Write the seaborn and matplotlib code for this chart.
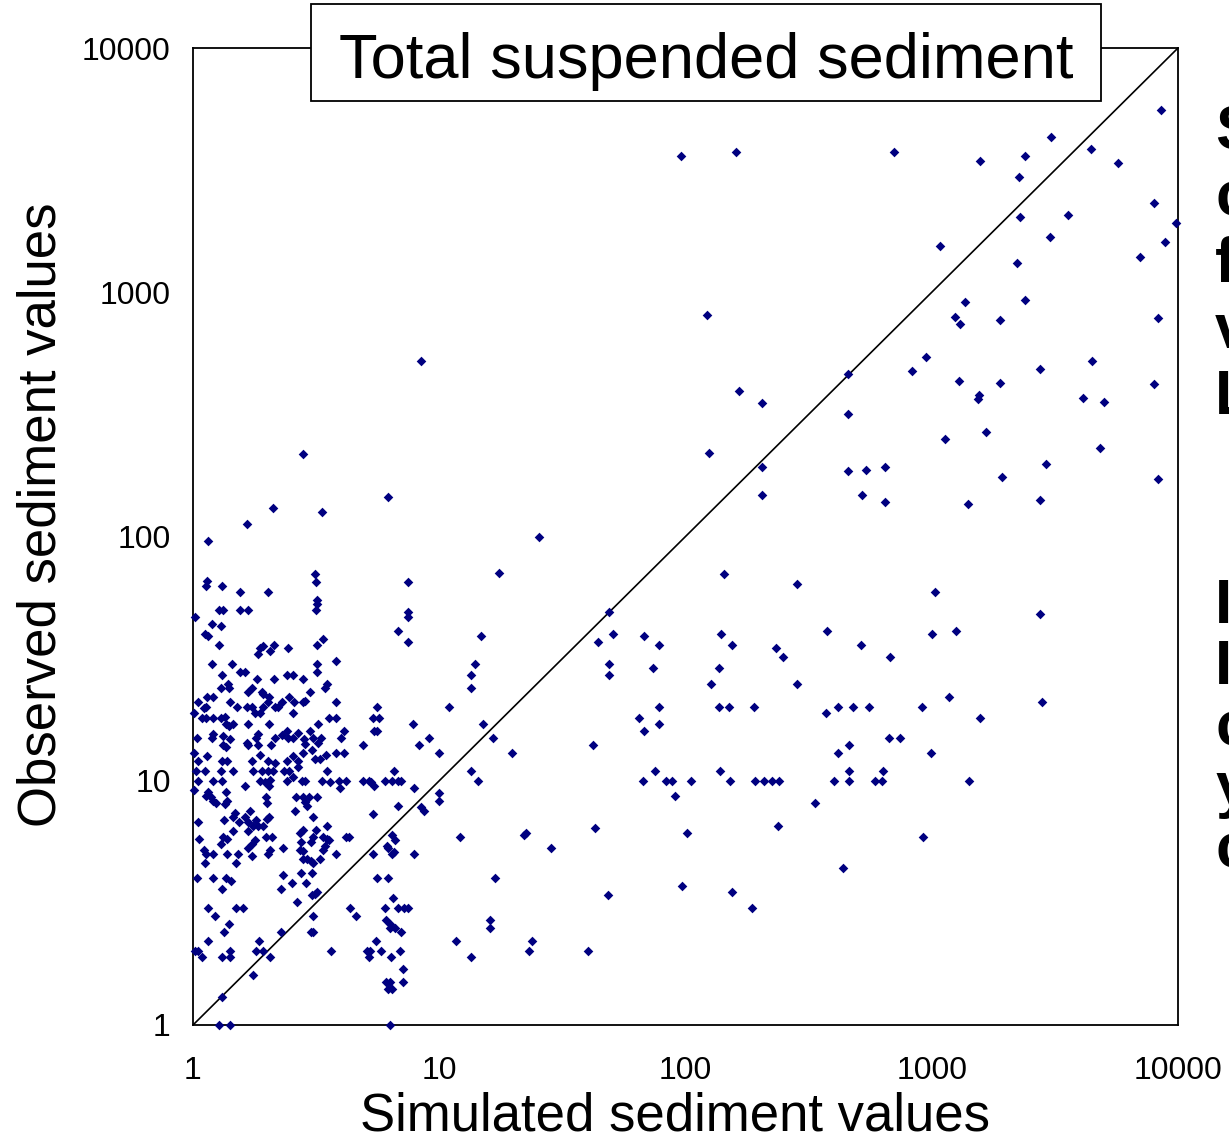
import matplotlib
matplotlib.use("Agg")
import numpy as np
import pandas as pd
import matplotlib.pyplot as plt
import seaborn as sns
from matplotlib.patches import Rectangle

# ---------------- data ----------------
# upper / right part of the cloud
sim_a = [8.4, 2.8, 6.2, 96, 160, 700, 1565, 2400, 3040, 2270, 4430, 5720, 8550,
         7980, 9820, 8850, 7020, 3570, 2280, 3010, 1080, 2210, 122,
         1360, 2400, 1240, 1300, 1900, 8260, 950, 830, 2760, 4480,
         1290, 1900, 1550, 1540, 4130, 5010, 7980, 165, 205, 459,
         459, 1130, 1660, 4830, 2900, 1920, 8260, 125, 205, 205,
         459, 543, 643, 522, 643, 1410, 2750]
obs_a = [525, 217, 145, 3600, 3740, 3740, 3440, 3600, 4340, 2960, 3850, 3370, 5560,
         2320, 1930, 1600, 1390, 2070, 2030, 1680, 1540, 1320, 809,
         910, 927, 792, 739, 772, 785, 545, 477, 485, 525,
         433, 426, 381, 366, 369, 354, 422, 396, 351, 464,
         316, 251, 267, 230, 198, 175, 172, 219, 193, 148,
         185, 188, 192, 148, 138, 136, 141]

# middle-lower part (simulated 10 - 400)
sim_b = [25.3, 17.5, 143, 283, 49, 374, 14.8, 51, 44, 68,
         78, 139, 154, 232, 248, 137, 74, 49, 49, 127,
         283, 78, 137, 150, 190, 371, 65, 68, 78, 15.1,
         16.5, 19.8, 42, 67, 75, 83, 88, 105, 91, 138,
         152, 192, 209, 224, 240, 336, 238, 22.1, 22.6, 43,
         101, 28.4, 16.8, 48.6, 96.5, 155, 186, 16, 16, 23.7,
         23.2, 40]
obs_b = [100, 71, 70, 64, 49, 41, 39, 40, 37, 39,
         36, 40, 36, 35, 32, 29, 29, 30, 27, 25,
         25, 20, 20, 20, 20, 19, 18, 16, 17, 17,
         15, 13, 14, 10, 11, 10, 10, 10, 8.7, 11,
         10, 10, 10, 10, 10, 8.1, 6.5, 6, 6.1, 6.4,
         6.1, 5.3, 4, 3.4, 3.7, 3.5, 3, 2.7, 2.5, 2.2,
         2, 2]

# lower right part (simulated 400 - 3000)
sim_c = [1030, 2740, 516, 679, 1005, 1260, 1180, 2810, 415, 479,
         554, 916, 1570, 673, 745, 416, 460, 993, 460, 634,
         402, 460, 587, 626, 1420, 919, 437]
obs_c = [59, 48, 36, 32, 40, 41, 22, 21, 20, 20,
         20, 20, 18, 15, 15, 13, 14, 13, 11, 11,
         10, 10, 10, 10, 10, 5.9, 4.4]

# simulated 3.8 - 14, observed 13 - 65
sim_d = [7.45, 7.45, 7.5, 6.8, 7.45, 3.8, 14, 13.5, 13.5, 3.8,
         5.6, 11, 3.8, 5.4, 5.7, 7.8, 4.1, 4.0, 5.6, 5.45,
         9.1, 4.9, 8.3, 9.95, 3.8, 4.1]
obs_d = [65, 49, 47, 41, 37, 31, 30, 27, 24, 21,
         20, 20, 18, 18, 18, 17, 16, 15, 16, 16,
         15, 14, 14, 13, 13, 13]

# simulated 3.8 - 14, observed 1 - 11
sim_e = [3.9, 3.95, 4.2, 4.9, 5.2, 5.3, 5.45, 6.0, 6.4, 6.8,
         7.0, 6.55, 7.9, 6.8, 5.4, 8.4, 8.7, 10, 10, 13.5,
         14.3, 4.2, 4.3, 3.8, 5.4, 6.45, 6.6, 6.15, 6.2, 6.55,
         6.45, 7.9, 12.1, 5.6, 6.2, 6.5, 4.35, 4.6, 6.0, 6.8,
         7.2, 7.5, 6.1, 6.3, 6.3, 6.6, 7.0, 5.55, 5.1, 5.25,
         5.2, 5.8, 6.35, 6.95, 11.7, 13.5, 7.15, 6.1, 6.3, 7.1,
         6.2, 6.45, 6.3]
obs_e = [10, 9.3, 10, 10, 10, 9.9, 9.5, 10, 10, 10,
         10, 11, 9.3, 7.9, 7.3, 7.8, 7.5, 8.9, 8.3, 11,
         10, 5.9, 5.9, 5, 5, 6, 5.7, 5.4, 5.3, 5.1,
         5, 5, 5.9, 4, 4, 3.3, 3, 2.8, 3, 3,
         3, 3, 2.7, 2.6, 2.5, 2.5, 2.4, 2.2, 2, 2,
         1.9, 2, 1.9, 2, 2.2, 1.9, 1.7, 1.5, 1.5, 1.5,
         1.4, 1.4, 1]

# simulated 1 - 3.7, observed 1 - 11
sim_f = [1.03, 1.05, 1.01, 1.12, 1.21, 1.3, 1.31, 1.46, 1.75, 1.9,
         2.02, 2.12, 1.87, 1.96, 2.04, 2.05, 1.63, 2.35, 2.45, 2.55,
         2.4, 2.68, 2.76, 2.85, 3.33, 3.49, 3.6, 1.15, 1.18, 1.13,
         1.21, 1.24, 1.36, 1.38, 1.35, 1.98, 1.99, 2.62, 2.8, 2.97,
         2.85, 2.91, 3.2, 2.6, 1.05, 1.34, 1.45, 1.48, 1.54, 1.63,
         1.7, 1.68, 1.8, 1.99, 2.04, 1.76, 1.84, 1.93, 1.68, 3.06,
         3.51, 1.06, 1.33, 1.37, 1.3, 1.46, 1.98, 2.09, 2.8, 2.72,
         3.16, 3.08, 3.01, 3.38, 3.49, 3.58, 2.75, 1.79, 1.73, 1.67,
         1.11, 1.13, 1.21, 1.12, 1.38, 1.52, 1.5, 1.73, 2.05, 2.02,
         2.31, 2.72, 2.8, 3.38, 3.44, 2.8, 2.9, 3.01, 3.08, 3.28,
         1.04, 1.21, 1.36, 1.42, 1.31, 2.31, 2.74, 3.03, 2.27, 2.52,
         2.88, 3.04, 3.2, 3.12, 2.65, 1.15, 1.23, 1.5, 1.59, 3.06,
         1.4, 1.34, 2.27, 3.01, 3.08, 1.15, 1.85, 1.02, 1.05, 1.09,
         1.31, 1.41, 1.41, 1.81, 1.92, 2.05, 3.62, 1.75, 1.31, 1.27, 1.41]
obs_f = [11, 10, 9.2, 11, 10, 11, 10, 11, 11, 11,
         11, 11, 10, 9.9, 9.5, 10.1, 9.5, 11, 11, 10.4,
         10, 11.4, 10, 10, 10, 11, 9.9, 9, 8.6, 8.7,
         8.3, 8.1, 9, 8.3, 8, 8.6, 8.1, 8.6, 8.6, 8.6,
         8.2, 7.9, 8.6, 7.5, 6.8, 6.9, 7.1, 7.4, 6.8, 7.1,
         7.5, 6.8, 6.9, 7, 7.1, 6.5, 6.55, 6.5, 6.2, 7.1,
         6.5, 5.8, 5.9, 5.8, 5.5, 6.2, 5.9, 5.9, 6.3, 6.1,
         6.3, 5.9, 5.6, 5.9, 5.8, 5.7, 5.6, 5.7, 5.5, 5.3,
         5.2, 5, 5, 4.6, 5, 5, 4.6, 4.9, 5.2, 5,
         5.3, 5.2, 5.15, 5.2, 5.4, 4.8, 4.8, 4.7, 4.6, 4.8,
         4, 4, 4, 3.9, 3.6, 4.1, 4.2, 4.2, 3.6, 3.8,
         3.8, 3.4, 3.5, 3.45, 3.2, 3, 2.8, 3, 3, 2.8,
         2.6, 2.4, 2.4, 2.4, 2.4, 2.2, 2.2, 2, 2, 1.9,
         1.9, 1.9, 2, 2, 2, 1.9, 2, 1.6, 1.3, 1, 1]

# simulated 1 - 3.6, observed 11 - 131
sim_g = [2.12, 3.33, 1.65, 1.15, 1.14, 1.13, 1.31, 1.55, 2.01, 3.13,
         3.16, 3.2, 3.18, 3.16, 1.28, 1.32, 1.55, 1.68, 1.02, 1.19,
         1.3, 1.12, 1.15, 1.28, 3.18, 3.36, 1.87, 1.84, 1.92, 2.05,
         2.13, 2.44, 1.19, 1.44, 1.55, 1.63, 3.18, 3.18, 1.31, 1.3,
         1.39, 1.4, 1.74, 1.82, 2.13, 2.41, 2.55, 2.79, 3.49, 3.44,
         1.14, 1.21, 1.05, 1.41, 1.68, 1.91, 1.92, 2.04, 2.45, 2.57,
         2.99, 2.85, 2.8, 1.13, 1.11, 1.51, 1.66, 1.73, 1.79, 1.87,
         1.93, 2.02, 2.15, 2.22, 2.29, 2.55, 1.01, 1.09, 1.13, 1.21,
         1.3, 1.35, 1.36, 1.4, 1.45, 1.68, 2.04, 3.21, 3.56, 1.04,
         1.19, 1.21, 1.32, 1.41, 1.33, 1.36, 1.65, 1.68, 1.84, 1.81,
         1.84, 2.07, 2.16, 2.29, 2.4, 2.44, 2.55, 2.68, 2.82, 2.85,
         2.99, 3.08, 3.23, 3.3, 1.01, 1.14, 1.31, 1.38, 1.73, 1.87,
         2.02, 2.15, 2.4, 2.55, 2.68, 2.8, 3.03, 3.13, 3.28, 3.47, 1.05]
obs_g = [131, 126, 113, 96, 66, 63, 63, 59, 59, 70,
         65, 55, 53, 50, 50, 50, 50, 50, 47, 44,
         43, 40, 39, 36, 36, 38, 35, 33, 35.5, 34,
         36, 35, 30, 30, 28, 28, 30, 28, 27, 24,
         25, 24, 24, 26, 26, 27, 27, 26, 25, 24,
         22, 22, 21, 21, 23, 23, 22.7, 22, 22, 21,
         23, 21.2, 21, 20, 19.8, 20, 20, 20, 19, 19,
         20, 21, 20, 20, 21, 19, 19, 18, 18, 18,
         18, 18.3, 17, 16.8, 17, 17, 17, 17, 18, 15,
         15, 15.5, 15.3, 14.8, 14, 13.8, 14.3, 14, 15.5, 15,
         14, 14, 15, 15.4, 16, 15, 15, 15.7, 14.8, 14.2,
         16, 15, 14.3, 15, 13, 12.6, 12, 12, 12, 12.8,
         12, 11.8, 12, 12.6, 12, 13, 13.3, 12.3, 12.3, 12.8, 12]

one_to_one = [1, 10000]
tick_values = [1, 10, 100, 1000, 10000]
tick_labels = ["1", "10", "100", "1000", "10000"]
title_text = "Total suspended sediment"
x_label = "Simulated sediment values"
y_label = "Observed sediment values"
side_para1 = ["S", "c", "f", "v", "L"]
side_para2 = ["I", "I", "c", "y", "c"]

# ---------------- figure ----------------
sns.set_style("white")
plt.rcParams['font.family'] = ['Liberation Sans', 'DejaVu Sans']
plt.rcParams['text.color'] = 'black'
plt.rcParams['axes.labelcolor'] = 'black'
plt.rcParams['xtick.color'] = 'black'
plt.rcParams['ytick.color'] = 'black'

W, H = 1229, 1139
fig = plt.figure(figsize=(W / 100, H / 100), dpi=100)
ax = fig.add_axes([193 / W, 1 - 1025 / H, 985 / W, 977 / H])

df = pd.DataFrame({
    "Simulated": sim_a + sim_b + sim_c + sim_d + sim_e + sim_f + sim_g,
    "Observed": obs_a + obs_b + obs_c + obs_d + obs_e + obs_f + obs_g,
})

sns.lineplot(x=one_to_one, y=one_to_one, color="black", linewidth=1.2, ax=ax, zorder=2)
sns.scatterplot(data=df, x="Simulated", y="Observed", marker="D", color="#000080",
                s=24, linewidth=0, ax=ax, zorder=3, clip_on=False)

ax.set_xscale("log")
ax.set_yscale("log")
ax.set_xlim(1, 10000)
ax.set_ylim(1, 10000)
ax.set_xticks(tick_values)
ax.set_xticklabels(tick_labels)
ax.set_yticks(tick_values)
ax.set_yticklabels(tick_labels)
ax.minorticks_off()
ax.tick_params(axis="both", which="major", direction="out", length=8, width=1.0,
               color="#555555", labelsize=23, labelcolor="black")
ax.tick_params(axis="x", pad=14)
ax.tick_params(axis="y", pad=8)
for sp in ax.spines.values():
    sp.set_visible(True)
    sp.set_color("black")
    sp.set_linewidth(1.3)

ax.set_xlabel(x_label, fontsize=38, color="black")
ax.set_ylabel(y_label, fontsize=38, color="black")
ax.xaxis.set_label_coords(0.489, -0.068)
ax.yaxis.set_label_coords(-0.128, 0.522)

# title box overlapping the top of the plot
fig.patches.append(Rectangle((311 / W, 1 - 101 / H), 790 / W, 97 / H,
                             transform=fig.transFigure, facecolor="white",
                             edgecolor="black", linewidth=1.3, zorder=5))
fig.text(706 / W, 1 - 78 / H, title_text, fontsize=45.5, ha="center",
         va="baseline", color="black", zorder=6)

# text block to the right, clipped by the figure edge
for i, ch in enumerate(side_para1):
    fig.text(1215 / W, 1 - (150 + 66 * i) / H, ch, fontsize=45, fontweight="bold",
             ha="left", va="baseline", color="black")
for i, ch in enumerate(side_para2):
    fig.text(1215 / W, 1 - (623 + 61 * i) / H, ch, fontsize=45, fontweight="bold",
             ha="left", va="baseline", color="black")

fig.savefig("out.png", dpi=100)
